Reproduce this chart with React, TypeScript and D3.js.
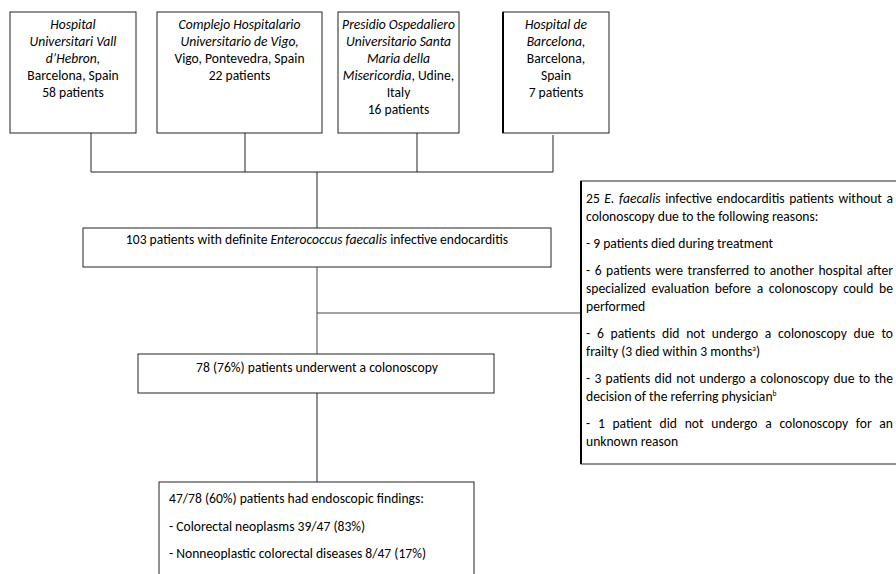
import React, { useLayoutEffect, useRef } from "react";
import * as d3 from "d3";

// participating centres (top row)
const centreNames = [
  ["Hospital", "Universitari Vall", "d\u2019Hebron,"],
  ["Complejo Hospitalario", "Universitario de Vigo,"],
  ["Presidio Ospedaliero", "Universitario Santa", "Maria della", "Misericordia|, Udine,"],
  ["Hospital de", "Barcelona,"],
];
const centrePlaces = [
  ["Barcelona, Spain"],
  ["Vigo, Pontevedra, Spain"],
  ["Italy"],
  ["Barcelona,", "Spain"],
];
const centrePatients = [58, 22, 16, 7];

const totalPatients = 103;
const colonoscopyN = 78;
const findingsN = 47;
const neoplasmN = 39;
const nonNeoplasticN = 8;

// reasons for no colonoscopy
const excludedN = 25;
const reasonCounts = [9, 6, 6, 3, 1];

const W = 896;
const H = 574;
const FONT = "Carlito, Lato, 'Open Sans', sans-serif";
const FS = 13.6;
const STROKE = "#222";

// layout
const topBoxes = [
  { x0: 10, x1: 136, cx: 91 },
  { x0: 157, x1: 322, cx: 245 },
  { x0: 338, x1: 459, cx: 417 },
  { x0: 503, x1: 609, cx: 553 },
];
const topY0 = 12, topY1 = 133, busY = 172, spineX = 317;
const box103 = { x0: 83, x1: 551, y0: 228, y1: 267 };
const box78 = { x0: 138, x1: 494, y0: 354, y1: 393 };
const box47 = { x0: 159, x1: 474, y0: 482, y1: 580 };
const boxEx = { x0: 581, x1: 902, y0: 181, y1: 464 };
const branchY = 313;

const pct = (a: number, b: number) => Math.round((100 * a) / b);

function Rich({ s, italicFirst }: { s: string; italicFirst: boolean }) {
  const parts = s.split("|");
  if (parts.length === 1) return <tspan fontStyle={italicFirst ? "italic" : "normal"}>{s}</tspan>;
  return (
    <>
      <tspan fontStyle="italic">{parts[0]}</tspan>
      <tspan>{parts[1]}</tspan>
    </>
  );
}

export default function App() {
  const ref = useRef<SVGSVGElement>(null);
  const lineH = 17;
  const path = d3.line<[number, number]>();
  const seg = (pts: [number, number][]) => path(pts) || "";

  const exLeft = boxEx.x0 + 5;
  const exWidth = 307;

  // justify lines by spreading word spacing
  useLayoutEffect(() => {
    if (!ref.current) return;
    d3.select(ref.current).selectAll<SVGTextElement, unknown>("text.just").each(function () {
      this.setAttribute("word-spacing", "0");
      const natural = this.getComputedTextLength();
      const spaces = (this.textContent || "").split(" ").length - 1;
      if (spaces > 0) this.setAttribute("word-spacing", String((exWidth - natural) / spaces));
    });
  }, []);

  type L = { y: number; just: boolean; content: React.ReactNode };
  const exLines: L[] = [];
  let y = 203;
  const step = 18, para = 27;
  exLines.push({ y, just: true, content: <>{excludedN} <tspan fontStyle="italic">E. faecalis</tspan> infective endocarditis patients without a</> });
  exLines.push({ y: (y += step), just: false, content: <>colonoscopy due to the following reasons:</> });
  exLines.push({ y: (y += para), just: false, content: <>- {reasonCounts[0]} patients died during treatment</> });
  exLines.push({ y: (y += para), just: true, content: <>- {reasonCounts[1]} patients were transferred to another hospital after</> });
  exLines.push({ y: (y += step), just: true, content: <>specialized evaluation before a colonoscopy could be</> });
  exLines.push({ y: (y += step), just: false, content: <>performed</> });
  exLines.push({ y: (y += para), just: true, content: <>- {reasonCounts[2]} patients did not undergo a colonoscopy due to</> });
  exLines.push({ y: (y += step), just: false, content: <>frailty (3 died within 3 months<tspan fontSize={7.5} dy={-5}>a</tspan><tspan dy={5}>)</tspan></> });
  exLines.push({ y: (y += para), just: true, content: <>- {reasonCounts[3]} patients did not undergo a colonoscopy due to the</> });
  exLines.push({ y: (y += step), just: false, content: <>decision of the referring physician<tspan fontSize={7.5} dy={-5}>b</tspan></> });
  exLines.push({ y: (y += para), just: true, content: <>- {reasonCounts[4]} patient did not undergo a colonoscopy for an</> });
  exLines.push({ y: (y += step), just: false, content: <>unknown reason</> });

  return (
    <svg ref={ref} width={W} height={H} style={{ position: "absolute", left: 0, top: 0, background: "#fff" }}
      fontFamily={FONT} fontSize={FS} fill="#000">
      {/* top centre boxes */}
      {topBoxes.map((b, i) => {
        const lines: { t: string; it: boolean }[] = [
          ...centreNames[i].map((t) => ({ t, it: true })),
          ...centrePlaces[i].map((t) => ({ t, it: false })),
          { t: `${centrePatients[i]} patients`, it: false },
        ];
        const cx = (b.x0 + b.x1) / 2;
        return (
          <g key={i}>
            <rect x={b.x0} y={topY0} width={b.x1 - b.x0} height={topY1 - topY0} fill="none" stroke={STROKE} strokeWidth={1} />
            {i === 3 && <line x1={b.x0} x2={b.x0} y1={topY0} y2={topY1} stroke="#000" strokeWidth={2} />}
            {lines.map((l, j) => (
              <text key={j} x={cx} y={29 + j * lineH} textAnchor="middle">
                <Rich s={l.t} italicFirst={l.it} />
              </text>
            ))}
            <path d={seg([[b.cx, topY1 + (i === 3 ? 2 : 0)], [b.cx, busY]])} stroke={STROKE} fill="none" />
          </g>
        );
      })}
      <path d={seg([[91, busY], [553, busY]])} stroke={STROKE} fill="none" />
      <path d={seg([[spineX, busY], [spineX, box103.y0]])} stroke={STROKE} fill="none" />

      {/* total */}
      <rect x={box103.x0} y={box103.y0} width={box103.x1 - box103.x0} height={box103.y1 - box103.y0} fill="none" stroke={STROKE} />
      <text x={spineX} y={244} textAnchor="middle">
        {totalPatients} patients with definite <tspan fontStyle="italic">Enterococcus faecalis</tspan> infective endocarditis
      </text>

      <path d={seg([[spineX, box103.y1], [spineX, box78.y0]])} stroke="#444" fill="none" />
      <path d={seg([[spineX, branchY], [boxEx.x0, branchY]])} stroke="#444" fill="none" />

      {/* colonoscopy */}
      <rect x={box78.x0} y={box78.y0} width={box78.x1 - box78.x0} height={box78.y1 - box78.y0} fill="none" stroke={STROKE} />
      <text x={spineX} y={372} textAnchor="middle">
        {colonoscopyN} ({pct(colonoscopyN, totalPatients)}%) patients underwent a colonoscopy
      </text>
      <path d={seg([[spineX, box78.y1], [spineX, box47.y0]])} stroke={STROKE} fill="none" />

      {/* findings */}
      <rect x={box47.x0} y={box47.y0} width={box47.x1 - box47.x0} height={box47.y1 - box47.y0} fill="none" stroke={STROKE} />
      <text x={169} y={503}>{findingsN}/{colonoscopyN} ({pct(findingsN, colonoscopyN)}%) patients had endoscopic findings:</text>
      <text x={169} y={531}>- Colorectal neoplasms {neoplasmN}/{findingsN} ({pct(neoplasmN, findingsN)}%)</text>
      <text x={169} y={558}>- Nonneoplastic colorectal diseases {nonNeoplasticN}/{findingsN} ({pct(nonNeoplasticN, findingsN)}%)</text>

      {/* excluded */}
      <rect x={boxEx.x0} y={boxEx.y0} width={boxEx.x1 - boxEx.x0} height={boxEx.y1 - boxEx.y0} fill="none" stroke={STROKE} />
      <line x1={boxEx.x0} x2={boxEx.x0} y1={boxEx.y0} y2={boxEx.y1} stroke="#000" strokeWidth={2} />
      {exLines.map((l, i) => (
        <text key={i} className={l.just ? "just" : undefined} x={exLeft} y={l.y}>{l.content}</text>
      ))}
    </svg>
  );
}
